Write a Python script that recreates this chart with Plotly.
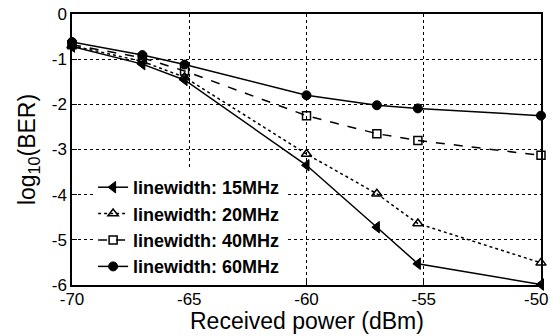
import plotly.graph_objects as go

received_power = [-70, -67, -65.2, -60, -57, -55.25, -50]
lw15 = [-0.72, -1.11, -1.46, -3.35, -4.72, -5.53, -5.99]
lw20 = [-0.70, -1.05, -1.40, -3.10, -3.98, -4.64, -5.51]
lw40 = [-0.68, -0.97, -1.26, -2.25, -2.65, -2.80, -3.13]
lw60 = [-0.62, -0.91, -1.12, -1.80, -2.02, -2.09, -2.25]

names = ["linewidth: 15MHz", "linewidth: 20MHz", "linewidth: 40MHz", "linewidth: 60MHz"]
xticks = [-70, -65, -60, -55, -50]
xticktext = ["-70", "-65", "-60", "-55", "-50\u00a0\u00a0"]
yticks = [0, -1, -2, -3, -4, -5, -6]
yticktext = ["0", "-1", "-2", "-3", "-4", "-5", "-6"]
xtitle = "Received power (dBm)"
ytitle = "log<sub>10</sub>(BER)"

FONT = "Arial, 'Liberation Sans', Helvetica, sans-serif"

fig = go.Figure()
styles = [
    (lw15, "solid", dict(symbol="triangle-left", size=10, color="black", line=dict(color="black", width=1))),
    (lw20, "dot", dict(symbol="triangle-up-open", size=9, color="black", line=dict(color="black", width=1.5))),
    (lw40, "dash", dict(symbol="square-open", size=8, color="black", line=dict(color="black", width=1.5))),
    (lw60, "solid", dict(symbol="circle", size=9, color="black", line=dict(color="black", width=1))),
]
for name, (vals, dash, marker) in zip(names, styles):
    fig.add_trace(go.Scatter(
        x=received_power, y=vals, name=name, mode="lines+markers",
        line=dict(color="black", width=1.5, dash=dash),
        marker=marker, cliponaxis=False,
    ))

axis_common = dict(
    showline=True, linecolor="black", linewidth=1.5, mirror=True,
    ticks="inside", ticklen=5, tickcolor="black",
    showgrid=True, gridcolor="black", gridwidth=1, griddash="3px,3px",
    zeroline=False, ticklabeloverflow="allow", automargin=False,
    tickfont=dict(family=FONT, size=17, color="black"),
)

fig.update_layout(
    width=551, height=336,
    margin=dict(l=72, r=10, t=14, b=51),
    paper_bgcolor="white", plot_bgcolor="white",
    showlegend=True,
    legend=dict(
        x=0.045, y=0.0, xanchor="left", yanchor="bottom",
        bgcolor="white", borderwidth=0,
        font=dict(family=FONT, size=18, color="black", weight="bold"),
        tracegroupgap=0, itemwidth=30,
    ),
    xaxis=dict(
        range=[-70, -50], tickvals=xticks, ticktext=xticktext,
        ticklabelstandoff=-2,
        **axis_common,
    ),
    yaxis=dict(
        range=[-6, 0], tickvals=yticks, ticktext=yticktext,
        title=dict(text=ytitle, font=dict(family=FONT, size=23, color="black"), standoff=10),
        **axis_common,
    ),
    annotations=[dict(
        text=xtitle, xref="paper", yref="paper", x=0.5, y=-0.133,
        xanchor="center", yanchor="middle", showarrow=False,
        font=dict(family=FONT, size=23, color="black"),
    )],
)

fig.write_html("out.html", config={"displayModeBar": False},
               post_script="document.body.style.margin='0';document.body.style.padding='0';")
